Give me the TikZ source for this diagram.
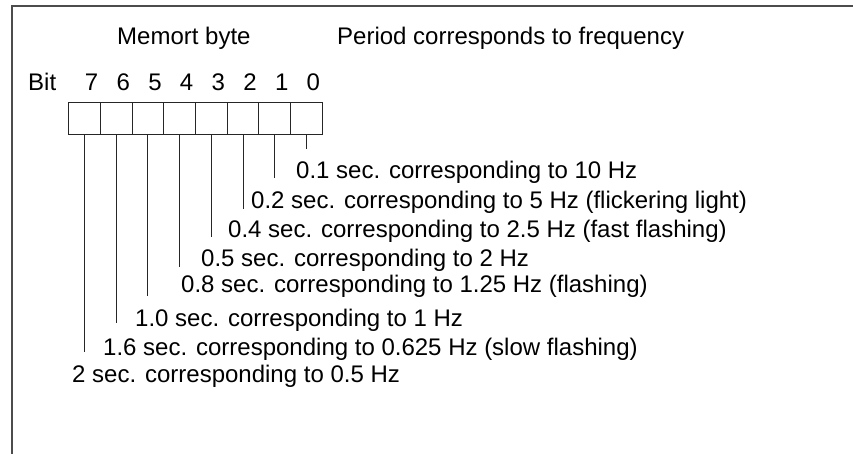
\documentclass[tikz,border=0pt]{standalone}
\usepackage{fontspec}
\setmainfont{Liberation Sans}
\begin{document}
\begin{tikzpicture}[x=1pt,y=-1pt,
  txt/.style={anchor=base west,inner sep=0pt,font=\fontsize{24}{28}\selectfont},
  dig/.style={anchor=base,inner sep=0pt,font=\fontsize{24}{28}\selectfont},
  cell/.style={draw=black!85,minimum width=31.675pt,minimum height=32pt,inner sep=0pt,anchor=north west,line width=0.9pt},
  lead/.style={draw=black!85,line width=0.9pt},
  frameline/.style={line width=1.6pt,draw=black!70}]
\useasboundingbox (0,0) rectangle (853,454);
\draw[frameline] (12,454) -- (12,6) -- (853,6);
\node[txt] (hdr1) at (117,45) {Memort byte};
\node[txt] (hdr2) at (337,45) {Period corresponds to frequency};
\node[txt] (bit) at (28,90.7) {Bit};
\foreach \i in {0,...,7}{
  \node[cell] (b\i) at ({68.3+(7-\i)*31.675},102) {};
  \node[dig] (d\i) at ({68.3+(7-\i)*31.675+15.84+7.5},90.7) {\i};
}
\coordinate (e0) at (b0.south |- 0,149);
\coordinate (e1) at (b1.south |- 0,178);
\coordinate (e2) at (b2.south |- 0,209);
\coordinate (e3) at (b3.south |- 0,237);
\coordinate (e4) at (b4.south |- 0,267);
\coordinate (e5) at (b5.south |- 0,296);
\coordinate (e6) at (b6.south |- 0,323);
\coordinate (e7) at (b7.south |- 0,352);
\foreach \i in {0,...,7}{ \draw[lead] (b\i.south) -- (e\i); }
\node[txt] (t0) at (296,179) {0.1 sec. corresponding to 10 Hz};
\node[txt] (t1) at (251,209) {0.2 sec. corresponding to 5 Hz (flickering light)};
\node[txt] (t2) at (228,237.3) {0.4 sec. corresponding to 2.5 Hz (fast flashing)};
\node[txt] (t3) at (201,266.7) {0.5 sec. corresponding to 2 Hz};
\node[txt] (t4) at (181,292.7) {0.8 sec. corresponding to 1.25 Hz (flashing)};
\node[txt] (t5) at (135,326.7) {1.0 sec. corresponding to 1 Hz};
\node[txt] (t6) at (103,355) {1.6 sec. corresponding to 0.625 Hz (slow flashing)};
\node[txt] (t7) at (72,382.7) {2 sec. corresponding to 0.5 Hz};
\end{tikzpicture}
\end{document}
